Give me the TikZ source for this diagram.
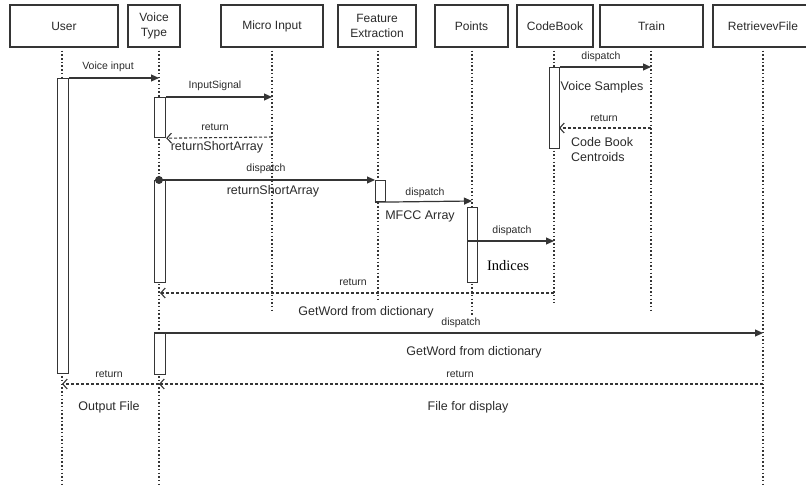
\documentclass[tikz,border=0pt]{standalone}
\usepackage{fontspec}
\setmainfont{Liberation Sans}
\newfontfamily\idxfont{Liberation Serif}
\usetikzlibrary{arrows.meta}
\definecolor{ln}{HTML}{353535}
\definecolor{tx}{HTML}{2A2A2A}
\begin{document}
\begin{tikzpicture}[x=1pt,y=-1pt,
  hdr/.style={draw=ln, line width=1.2pt, fill=white, inner sep=0pt, minimum height=42pt,
    font=\fontsize{12}{15}\selectfont, text=tx, align=center},
  actbar/.style={draw=ln, line width=1.2pt, fill=white, inner sep=0pt, minimum width=11pt, anchor=north west},
  life/.style={draw=ln, line width=1.3pt, dash pattern=on 1.5pt off 2.2pt},
  msg/.style={draw=ln, line width=1.2pt, -{Triangle[length=8pt,width=7pt]}},
  ret/.style={draw=ln, line width=1.1pt, dash pattern=on 3pt off 2pt, -{Straight Barb[length=4.5pt,width=10pt]}},
  small/.style={font=\fontsize{10.5}{12}\selectfont, text=tx, inner sep=0pt},
  big/.style={font=\fontsize{12.5}{15}\selectfont, text=tx, inner sep=0pt}]
\useasboundingbox (0,0) rectangle (806,486);
\clip (0,0) rectangle (806,486);

% headers
\node[hdr, minimum width=108pt] (user) at (64,26) {User};
\node[hdr, minimum width=52pt] (voice) at (154,26) {Voice\\Type};
\node[hdr, minimum width=102pt] (micro) at (272,26) {Micro Input};
\node[hdr, minimum width=78pt] (feat) at (377,26) {Feature\\Extraction};
\node[hdr, minimum width=73pt] (points) at (471.5,26) {Points};
\node[hdr, minimum width=76pt] (codebook) at (555,26) {CodeBook};
\node[hdr, minimum width=103pt] (train) at (651.5,26) {Train};
\node[hdr, minimum width=100pt] (retr) at (763,26) {RetrievevFile};

% lifelines
\coordinate (uT) at (62,47);   \coordinate (uB) at (62,486);
\coordinate (vT) at (159,47);  \coordinate (vB) at (159,486);
\coordinate (mT) at (272,47);  \coordinate (mB) at (272,313);
\coordinate (fT) at (378,47);  \coordinate (fB) at (378,301);
\coordinate (pT) at (472,47);  \coordinate (pB) at (472,316);
\coordinate (cT) at (554,47);  \coordinate (cB) at (554,303);
\coordinate (tT) at (651,47);  \coordinate (tB) at (651,313);
\coordinate (rT) at (763,47);  \coordinate (rB) at (763,486);
\foreach \a/\b in {uT/uB, vT/vB, mT/mB, fT/fB, pT/pB, cT/cB, tT/tB, rT/rB}
  \draw[life] (\a) -- (\b);

% activation bars
\node[actbar, minimum height=295pt] (ubar) at (57,78) {};
\node[actbar, minimum height=40pt] (vbar1) at (154,97) {};
\node[actbar, minimum height=102pt] (vbar2) at (154,180) {};
\node[actbar, minimum height=41pt] (vbar3) at (154,333) {};
\node[actbar, minimum width=10pt, minimum height=21pt] (fbar) at (375,180) {};
\node[actbar, minimum width=10pt, minimum height=75pt] (pbar) at (467,207) {};
\node[actbar, minimum width=10pt, minimum height=81pt] (cbar) at (549,67) {};

% message end points
\coordinate (m1) at (159,78);
\coordinate (m2) at (272,97);
\coordinate (m3) at (272,137);
\coordinate (m4) at (651,67);
\coordinate (m5s) at (651,128);
\coordinate (m5e) at (559,128);
\coordinate (vstart) at (159,180);
\coordinate (m7) at (472,201);
\coordinate (m8s) at (467,241);
\coordinate (m8e) at (554,241);
\coordinate (m9s) at (554,293);
\coordinate (m9e) at (160,293);
\coordinate (m10) at (763,333);
\coordinate (m11s) at (763,384);
\coordinate (m11e) at (159,384);
\coordinate (m12e) at (62,384);

% messages
\draw[msg] (ubar.north east) -- (m1);
\draw[msg] (vbar1.north east) -- (m2);
\draw[ret] (m3) -- (vbar1.south east);
\draw[msg] (cbar.north east) -- (m4);
\draw[ret] (m5s) -- (m5e);
\fill[ln] (vstart) circle (4pt);
\draw[msg] (vstart) -- (fbar.north west);
\draw[msg] (fbar.south west) -- (m7);
\draw[msg] (m8s) -- (m8e);
\draw[ret] (m9s) -- (m9e);
\draw[msg] (vbar3.north west) -- (m10);
\draw[ret] (m11s) -- (m11e);
\draw[ret] (m11e) -- (m12e);

% labels
\node[small] (l1) at (108,67) {Voice input};
\node[small] (l2) at (215,86) {InputSignal};
\node[small] (l3) at (215,127) {return};
\node[big] (l4) at (217,147) {returnShortArray};
\node[small] (l5) at (601,57) {dispatch};
\node[big] (l6) at (602,87) {Voice Samples};
\node[small] (l7) at (604,118) {return};
\node[big, align=left, anchor=west] (l8) at (571,150) {Code Book\\Centroids};
\node[small] (l9) at (266,169) {dispatch};
\node[big] (l10) at (273,191) {returnShortArray};
\node[small] (l11) at (425,193) {dispatch};
\node[big] (l12) at (420,216) {MFCC Array};
\node[small] (l13) at (512,231) {dispatch};
\node[big, font=\idxfont\fontsize{14.5}{16}\selectfont, text=black] (l14) at (508,266) {Indices};
\node[small] (l15) at (353,282) {return};
\node[big] (l16) at (366,312) {GetWord from dictionary};
\node[small] (l17) at (461,323) {dispatch};
\node[big] (l18) at (474,352) {GetWord from dictionary};
\node[small] (l19) at (460,374) {return};
\node[small] (l20) at (109,374) {return};
\node[big] (l21) at (109,407) {Output File};
\node[big] (l22) at (468,407) {File for display};
\end{tikzpicture}
\end{document}
